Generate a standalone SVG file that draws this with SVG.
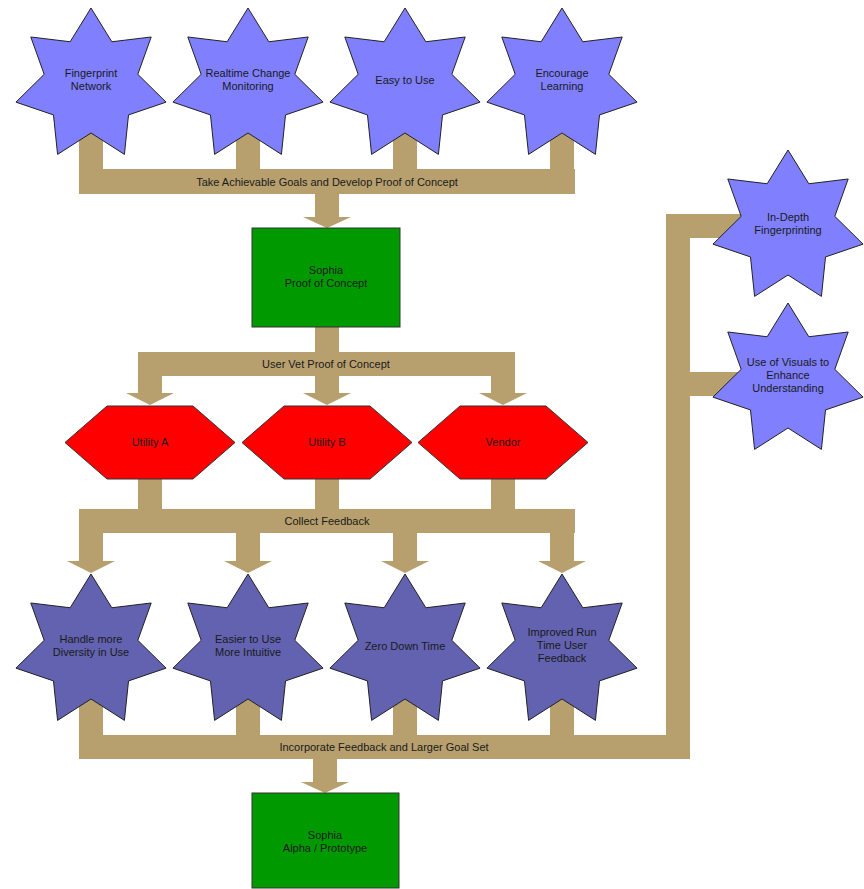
<svg xmlns="http://www.w3.org/2000/svg" xmlns:xlink="http://www.w3.org/1999/xlink" width="864" height="889" viewBox="0 0 864 889">
<style>
  .conn { fill: #b7a06e; }
  .star1 { fill: #8080ff; stroke: #222; stroke-width: 1; }
  .star2 { fill: #6262b0; stroke: #222; stroke-width: 1; }
  .hex { fill: #ff0000; stroke: #333; stroke-width: 1; }
  .box { fill: #009900; stroke: #333; stroke-width: 1; }
  text { font-family: "Liberation Sans", Arial, sans-serif; font-size: 11px; fill: #1a1a1a; text-anchor: middle; }
</style>
<defs>
  <polygon id="star" points="0,-77 20.83,-43.25 60.2,-48.01 46.8,-10.68 75.07,17.13 37.53,29.93 33.41,69.38 0,48 -33.41,69.38 -37.53,29.93 -75.07,17.13 -46.8,-10.68 -60.2,-48.01 -20.83,-43.25"/>
  <polygon id="hex" points="-85,0 -43,-36.5 43,-36.5 85,0 43,36.5 -43,36.5"/>
</defs>
<rect width="864" height="889" fill="#ffffff"/>
<g id="connectors">
  <!-- bus 1 -->
  <rect class="conn" x="79" y="125" width="24" height="50"/>
  <rect class="conn" x="236" y="125" width="24" height="50"/>
  <rect class="conn" x="393" y="125" width="24" height="50"/>
  <rect class="conn" x="550" y="125" width="24" height="50"/>
  <rect class="conn" x="79" y="169" width="496" height="25"/>
  <rect class="conn" x="315" y="193" width="24" height="25"/>
  <polygon class="conn" points="303,217 351,217 327,228"/>
  <text x="327" y="185.5">Take Achievable Goals and Develop Proof of Concept</text>
  <!-- bus 2 -->
  <rect class="conn" x="315" y="326" width="24" height="28"/>
  <rect class="conn" x="138" y="352" width="377" height="24"/>
  <rect class="conn" x="138" y="375" width="24" height="19"/>
  <rect class="conn" x="315" y="375" width="24" height="19"/>
  <rect class="conn" x="491" y="375" width="24" height="19"/>
  <polygon class="conn" points="126,393 174,393 150,405"/>
  <polygon class="conn" points="303,393 351,393 327,405"/>
  <polygon class="conn" points="479,393 527,393 503,405"/>
  <text x="326" y="367.5">User Vet Proof of Concept</text>
  <!-- bus 3 -->
  <rect class="conn" x="138" y="478" width="24" height="33"/>
  <rect class="conn" x="315" y="478" width="24" height="33"/>
  <rect class="conn" x="491" y="478" width="24" height="33"/>
  <rect class="conn" x="79" y="509" width="496" height="24"/>
  <rect class="conn" x="79" y="532" width="24" height="30"/>
  <rect class="conn" x="236" y="532" width="24" height="30"/>
  <rect class="conn" x="393" y="532" width="24" height="30"/>
  <rect class="conn" x="550" y="532" width="24" height="30"/>
  <polygon class="conn" points="67,561 115,561 91,573"/>
  <polygon class="conn" points="224,561 272,561 248,573"/>
  <polygon class="conn" points="381,561 429,561 405,573"/>
  <polygon class="conn" points="538,561 586,561 562,573"/>
  <text x="327" y="525">Collect Feedback</text>
  <!-- bus 4 -->
  <rect class="conn" x="79" y="690" width="24" height="47"/>
  <rect class="conn" x="236" y="690" width="24" height="47"/>
  <rect class="conn" x="393" y="690" width="24" height="47"/>
  <rect class="conn" x="550" y="690" width="24" height="47"/>
  <rect class="conn" x="79" y="735" width="611" height="24"/>
  <rect class="conn" x="666" y="214" width="24" height="545"/>
  <rect class="conn" x="666" y="214" width="100" height="24"/>
  <rect class="conn" x="666" y="372" width="100" height="24"/>
  <rect class="conn" x="313" y="758" width="24" height="25"/>
  <polygon class="conn" points="301,782 349,782 325,793"/>
  <text x="384" y="751">Incorporate Feedback and Larger Goal Set</text>
</g>
<g id="goal-fingerprint-network">
  <use xlink:href="#star" href="#star" class="star1" transform="translate(91,85)"/>
  <text x="91" y="77">Fingerprint</text>
  <text x="91" y="90">Network</text>
</g>
<g id="goal-realtime-change">
  <use xlink:href="#star" href="#star" class="star1" transform="translate(248,85)"/>
  <text x="248" y="77">Realtime Change</text>
  <text x="248" y="90">Monitoring</text>
</g>
<g id="goal-easy-to-use">
  <use xlink:href="#star" href="#star" class="star1" transform="translate(405,85)"/>
  <text x="405" y="84">Easy to Use</text>
</g>
<g id="goal-encourage-learning">
  <use xlink:href="#star" href="#star" class="star1" transform="translate(562,85)"/>
  <text x="562" y="77">Encourage</text>
  <text x="562" y="90">Learning</text>
</g>
<g id="sophia-poc">
  <rect class="box" x="252" y="228" width="148" height="99"/>
  <text x="326" y="274">Sophia</text>
  <text x="326" y="287">Proof of Concept</text>
</g>
<g id="utility-a">
  <use xlink:href="#hex" href="#hex" class="hex" transform="translate(150,442.5)"/>
  <text x="150" y="446">Utility A</text>
</g>
<g id="utility-b">
  <use xlink:href="#hex" href="#hex" class="hex" transform="translate(327,442.5)"/>
  <text x="327" y="446">Utility B</text>
</g>
<g id="vendor">
  <use xlink:href="#hex" href="#hex" class="hex" transform="translate(503,442.5)"/>
  <text x="503" y="446">Vendor</text>
</g>
<g id="fb-diversity">
  <use xlink:href="#star" href="#star" class="star2" transform="translate(91,651)"/>
  <text x="91" y="643">Handle more</text>
  <text x="91" y="656">Diversity in Use</text>
</g>
<g id="fb-easier">
  <use xlink:href="#star" href="#star" class="star2" transform="translate(248,651)"/>
  <text x="248" y="643">Easier to Use</text>
  <text x="248" y="656">More Intuitive</text>
</g>
<g id="fb-zero-down">
  <use xlink:href="#star" href="#star" class="star2" transform="translate(405,651)"/>
  <text x="405" y="650">Zero Down Time</text>
</g>
<g id="fb-runtime">
  <use xlink:href="#star" href="#star" class="star2" transform="translate(562,651)"/>
  <text x="562" y="636">Improved Run</text>
  <text x="562" y="649">Time User</text>
  <text x="562" y="662">Feedback</text>
</g>
<g id="goal-in-depth">
  <use xlink:href="#star" href="#star" class="star1" transform="translate(788,227)"/>
  <text x="788" y="221">In-Depth</text>
  <text x="788" y="234">Fingerprinting</text>
</g>
<g id="goal-visuals">
  <use xlink:href="#star" href="#star" class="star1" transform="translate(788,380)"/>
  <text x="788" y="366">Use of Visuals to</text>
  <text x="788" y="379">Enhance</text>
  <text x="788" y="392">Understanding</text>
</g>
<g id="sophia-alpha">
  <rect class="box" x="252" y="793" width="147" height="95"/>
  <text x="325" y="839">Sophia</text>
  <text x="325" y="852">Alpha / Prototype</text>
</g>
</svg>
